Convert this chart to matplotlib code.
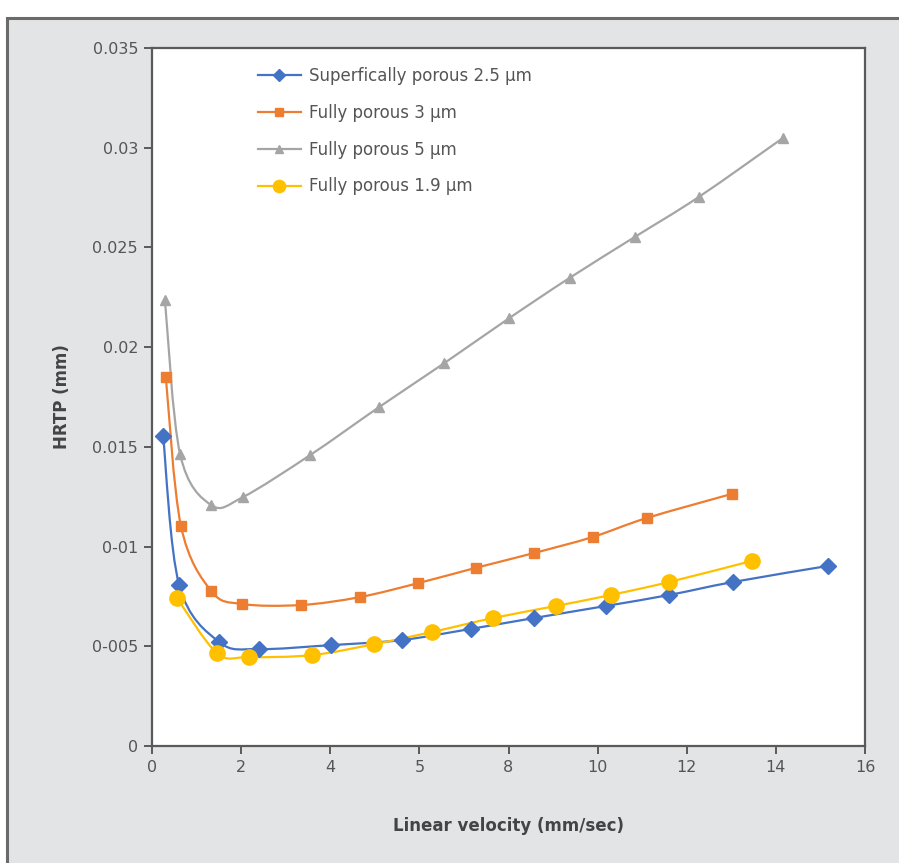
import numpy as np
import matplotlib
matplotlib.use("Agg")
import matplotlib.pyplot as plt
from matplotlib.path import Path
from matplotlib.patches import PathPatch, Rectangle
from matplotlib.lines import Line2D

plt.rcParams['font.family'] = ['DejaVu Sans']

# ------------------------------------------------------------
# Data
# ------------------------------------------------------------
sp25_x = [0.25, 0.61, 1.51, 2.40, 4.02, 5.60, 7.15, 8.58, 10.18, 11.60, 13.03, 15.17]
sp25_y = [0.01554, 0.00807, 0.00521, 0.00486, 0.00506, 0.00531, 0.00587,
          0.00642, 0.00702, 0.00757, 0.00822, 0.00903]

fp3_x = [0.31, 0.65, 1.33, 2.02, 3.35, 4.67, 5.98, 7.26, 8.58, 9.89, 11.10, 13.01]
fp3_y = [0.01850, 0.01103, 0.00777, 0.00712, 0.00707, 0.00747, 0.00817,
         0.00893, 0.00968, 0.01048, 0.01143, 0.01264]

fp5_x = [0.29, 0.63, 1.33, 2.04, 3.55, 5.10, 6.56, 8.02, 9.37, 10.83, 12.27, 14.16]
fp5_y = [0.02236, 0.01464, 0.01208, 0.01248, 0.01459, 0.01700, 0.01920,
         0.02146, 0.02347, 0.02552, 0.02753, 0.03049]

fp19_x = [0.56, 1.46, 2.18, 3.60, 4.99, 6.29, 7.66, 9.06, 10.29, 11.60, 13.46]
fp19_y = [0.00742, 0.00466, 0.00446, 0.00456, 0.00511, 0.00572, 0.00642,
          0.00702, 0.00757, 0.00822, 0.00928]

series_labels = ["Superfically porous 2.5 µm", "Fully porous 3 µm",
                 "Fully porous 5 µm", "Fully porous 1.9 µm"]

x_ticks = [0, 2, 4, 6, 8, 10, 12, 14, 16]
x_tick_labels = ["0", "2", "4", "5", "8", "10", "12", "14", "16"]
y_ticks = [0, 0.005, 0.01, 0.015, 0.02, 0.025, 0.03, 0.035]
y_tick_labels = ["0", "0-005", "0-01", "0.015", "0.02", "0.025", "0.03", "0.035"]


def smooth_path(xs, ys):
    # Excel-style smoothed line: Catmull-Rom segments as cubic Beziers
    pts = np.column_stack([xs, ys])
    n = len(pts)
    verts = [pts[0]]
    codes = [Path.MOVETO]
    for i in range(n - 1):
        p0 = pts[i - 1] if i > 0 else pts[i]
        p1 = pts[i]
        p2 = pts[i + 1]
        p3 = pts[i + 2] if i + 2 < n else pts[i + 1]
        c1 = p1 + (p2 - p0) / 6.0
        c2 = p2 - (p3 - p1) / 6.0
        verts += [c1, c2, p2]
        codes += [Path.CURVE4] * 3
    return Path(verts, codes)


fig = plt.figure(figsize=(8.99, 8.63), dpi=100)
fig.patch.set_facecolor("white")

# grey panel behind the chart
panel = Rectangle((7 / 899, -0.05), 1.1, 1 - 18 / 863 + 0.05,
                  transform=fig.transFigure, facecolor="#e3e4e6",
                  edgecolor="#6a6a6a", linewidth=2.2, zorder=-10)
fig.add_artist(panel)

ax = fig.add_axes([152 / 899, 1 - 746 / 863, 713 / 899, 698 / 863])
ax.set_facecolor("white")
ax.set_zorder(5)

styles = [
    (sp25_x, sp25_y, "#4472c4", "D", 8),
    (fp3_x, fp3_y, "#ed7d31", "s", 7.5),
    (fp5_x, fp5_y, "#a5a5a5", "^", 7),
    (fp19_x, fp19_y, "#ffc000", "o", 11),
]

handles = []
for (xs, ys, col, mk, ms), lab in zip(styles, series_labels):
    patch = PathPatch(smooth_path(xs, ys), facecolor="none", edgecolor=col,
                      linewidth=1.6, zorder=2)
    ax.add_patch(patch)
    ax.plot(xs, ys, linestyle="none", marker=mk, markersize=ms, color=col,
            markeredgecolor=col, zorder=3)
    handles.append(Line2D([], [], color=col, linewidth=1.6, marker=mk,
                          markersize=ms * 0.8, markeredgecolor=col, label=lab))

ax.set_xlim(0, 16)
ax.set_ylim(0, 0.035)
ax.set_xticks(x_ticks)
ax.set_xticklabels(x_tick_labels)
ax.set_yticks(y_ticks)
ax.set_yticklabels(y_tick_labels)

for sp in ax.spines.values():
    sp.set_color("#5a5a5a")
    sp.set_linewidth(1.6)

ax.tick_params(axis="both", direction="out", length=6, width=1.4,
               color="#5a5a5a", labelcolor="#555555", labelsize=11.5, pad=4)

ax.set_xlabel("Linear velocity (mm/sec)", fontsize=12, fontweight="bold",
              color="#444444", labelpad=30)
ax.set_ylabel("HRTP (mm)", fontsize=12, fontweight="bold",
              color="#444444", labelpad=15)

leg = ax.legend(handles=handles, loc="upper left", bbox_to_anchor=(0.148, 0.973),
                frameon=False, fontsize=12, handlelength=2.6, handletextpad=0.5,
                labelspacing=1.13, borderpad=0, borderaxespad=0)
for t in leg.get_texts():
    t.set_color("#555555")

fig.savefig("out.png", dpi=100, facecolor=fig.get_facecolor())
